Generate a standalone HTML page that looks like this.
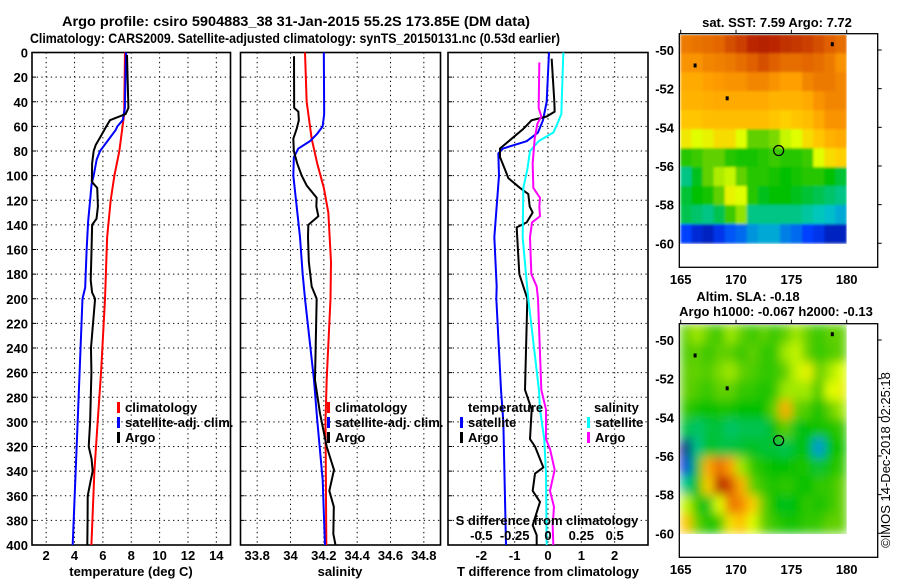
<!DOCTYPE html>
<html><head><meta charset="utf-8">
<style>
html,body{margin:0;padding:0;background:#fff;}
svg{display:block;font-family:"Liberation Sans",sans-serif;font-weight:bold;}
</style></head>
<body>
<svg id="fig" width="900" height="580" viewBox="0 0 900 580" xmlns="http://www.w3.org/2000/svg">
<defs>
<filter id="blurS" x="-5%" y="-5%" width="110%" height="110%"><feGaussianBlur stdDeviation="1.2"/></filter>
<filter id="blurL" x="-5%" y="-5%" width="110%" height="110%"><feGaussianBlur stdDeviation="5"/></filter>
<clipPath id="clipM1"><rect x="679.3" y="35" width="167.4" height="209"/></clipPath>
<clipPath id="clipM2"><rect x="679.3" y="325" width="167.4" height="209"/></clipPath>
</defs>
<text x="62" y="26" font-size="14" textLength="468" lengthAdjust="spacingAndGlyphs">Argo profile: csiro 5904883_38 31-Jan-2015 55.2S 173.85E (DM data)</text>
<text x="30" y="43" font-size="14" textLength="530" lengthAdjust="spacingAndGlyphs">Climatology: CARS2009. Satellite-adjusted climatology: synTS_20150131.nc (0.53d earlier)</text>
<g id="root"></g>
</svg>
<script>
// ---------- DATA ----------
const climTDepth = [0,50,80,100,120,150,200,260,300,340,400];
const climT      = [7.56,7.5,7.16,6.81,6.55,6.3,6.15,5.87,5.63,5.4,5.19];
const satTDepth  = [0,45,55,60,63,80,87,100,107,120,137,161,191,200,300,400];
const satT       = [7.63,7.55,7.4,7.02,6.9,5.8,5.56,5.35,5.2,5.1,4.96,4.85,4.75,4.56,4.22,3.87];
const argoTDepth = [2,45,50,55,60,65,70,75,80,90,105,110,125,135,140,160,185,195,200,240,260,300,320,330,340,350,360,380,400];
const argoT      = [7.7,7.8,7.6,6.5,6.24,6.0,5.75,5.5,5.35,5.24,5.22,5.6,5.65,5.55,5.24,5.2,5.14,5.24,5.45,5.16,5.19,5.1,5.0,5.2,5.28,5.1,4.93,4.92,4.9];
const climSDepth = [0,40,70,90,110,130,170,200,266,300,400];
const climS      = [34.087,34.097,34.127,34.16,34.2,34.227,34.243,34.24,34.217,34.21,34.215];
const satSDepth  = [0,50,60,66,72,78,85,100,120,150,180,200,266,298,347,374,400];
const satS       = [34.2,34.202,34.193,34.16,34.117,34.047,34.02,34.017,34.033,34.057,34.073,34.087,34.141,34.16,34.193,34.2,34.207];
const argoSDepth = [3,45,48,55,62,70,80,90,100,108,118,125,133,140,150,170,190,200,266,293,320,339,356,369,391,400];
const argoS      = [34.021,34.022,34.047,34.05,34.037,34.017,34.02,34.04,34.067,34.097,34.157,34.155,34.167,34.107,34.105,34.11,34.127,34.157,34.147,34.177,34.217,34.261,34.233,34.26,34.257,34.27];
const dTsatDepth  = [0,40,55,65,72,78,82,100,150,190,200,274,300,400];
const dTsat       = [0.03,-0.04,-0.15,-0.3,-0.64,-1.35,-1.49,-1.47,-1.61,-1.54,-1.55,-1.41,-1.34,-1.26];
const dTargoDepth = [5,40,48,52,55,62,70,78,85,95,102,110,115,125,130,138,142,180,190,200,274,290,314,320,337,342,356,365,384,392,400];
const dTargo      = [0.11,0.19,0.2,-0.04,-0.49,-0.74,-1.09,-1.44,-1.44,-1.29,-1.19,-0.84,-0.59,-0.55,-0.46,-0.64,-0.94,-0.86,-0.74,-0.62,-0.69,-0.49,-0.54,-0.39,-0.14,-0.39,-0.46,-0.24,-0.46,-0.34,-0.34];
const dSsatDepth  = [0,50,58,65,72,80,95,110,150,180,200,274,290,314,342,400];
const dSsat       = [0.115,0.1,0.07,0.04,-0.07,-0.135,-0.155,-0.185,-0.19,-0.165,-0.148,-0.068,-0.06,-0.028,-0.015,-0.01];
const dSargoDepth = [8,45,52,58,70,90,110,118,125,133,138,150,180,190,200,274,290,314,322,339,356,369,384,400];
const dSargo      = [-0.065,-0.07,-0.05,-0.08,-0.1,-0.115,-0.11,-0.06,-0.065,-0.06,-0.12,-0.135,-0.125,-0.085,-0.075,-0.05,-0.015,-0.015,0.015,0.05,0.015,0.045,0.035,0.04];
const depthTicks = [0,20,40,60,80,100,120,140,160,180,200,220,240,260,280,300,320,340,360,380,400];
const tTicks = [2,4,6,8,10,12,14];
const sTicks = [33.8,34,34.2,34.4,34.6,34.8];
const sTickLabels = ["33.8","34","34.2","34.4","34.6","34.8"];
const dTTicks = [-2,-1,0,1,2];
const dSTicks = [-0.5,-0.25,0,0.25,0.5];
const dSTickLabels = ["-0.5","-0.25","0","0.25","0.5"];
const lonTicks = [165,170,175,180];
const latTicks = [-50,-52,-54,-56,-58,-60];
const sstGrid = [
[0.84,0.85,0.86,0.87,0.9,0.92,0.95,0.96,0.95,0.94,0.93,0.92,0.9,0.88,0.86],
[0.8,0.8,0.82,0.83,0.84,0.86,0.88,0.9,0.88,0.86,0.86,0.87,0.86,0.84,0.8],
[0.76,0.76,0.78,0.79,0.8,0.8,0.82,0.82,0.8,0.78,0.78,0.82,0.84,0.84,0.82],
[0.74,0.74,0.75,0.76,0.76,0.76,0.76,0.76,0.74,0.74,0.74,0.76,0.8,0.82,0.82],
[0.7,0.7,0.72,0.72,0.72,0.72,0.72,0.72,0.7,0.68,0.7,0.72,0.76,0.8,0.8],
[0.64,0.6,0.62,0.66,0.66,0.6,0.5,0.5,0.52,0.58,0.6,0.66,0.7,0.74,0.76],
[0.44,0.46,0.5,0.5,0.44,0.42,0.42,0.44,0.46,0.44,0.44,0.46,0.6,0.66,0.68],
[0.3,0.38,0.5,0.56,0.58,0.5,0.44,0.44,0.42,0.4,0.42,0.44,0.44,0.4,0.36],
[0.36,0.4,0.42,0.5,0.62,0.6,0.44,0.38,0.4,0.4,0.38,0.36,0.34,0.32,0.3],
[0.34,0.32,0.3,0.34,0.46,0.54,0.3,0.3,0.3,0.3,0.3,0.28,0.26,0.24,0.22],
[0.12,0.08,0.06,0.1,0.14,0.16,0.2,0.22,0.22,0.18,0.16,0.12,0.1,0.06,0.06]];
const slaGrid = [
[0.5,0.55,0.5,0.45,0.55,0.5,0.45,0.5,0.45,0.5,0.55,0.5,0.45,0.5,0.5],
[0.48,0.5,0.45,0.5,0.5,0.45,0.5,0.45,0.45,0.55,0.58,0.5,0.45,0.48,0.5],
[0.5,0.5,0.48,0.52,0.55,0.5,0.48,0.45,0.45,0.5,0.58,0.62,0.5,0.55,0.6],
[0.5,0.48,0.45,0.5,0.5,0.45,0.45,0.42,0.45,0.55,0.55,0.55,0.45,0.6,0.62],
[0.45,0.42,0.4,0.42,0.42,0.4,0.4,0.4,0.5,0.76,0.5,0.48,0.4,0.5,0.55],
[0.35,0.32,0.35,0.36,0.32,0.34,0.34,0.34,0.4,0.5,0.38,0.4,0.42,0.42,0.45],
[0.0,0.3,0.38,0.35,0.35,0.36,0.38,0.36,0.36,0.34,0.38,0.4,0.2,0.4,0.42],
[0.08,0.36,0.76,0.86,0.78,0.55,0.45,0.42,0.4,0.4,0.42,0.42,0.36,0.42,0.45],
[0.3,0.4,0.68,0.96,0.9,0.74,0.5,0.45,0.42,0.45,0.42,0.4,0.45,0.45,0.5],
[0.58,0.45,0.38,0.6,0.84,0.82,0.68,0.5,0.4,0.38,0.4,0.45,0.42,0.45,0.5],
[0.7,0.5,0.42,0.45,0.65,0.72,0.6,0.5,0.45,0.42,0.42,0.45,0.45,0.5,0.5]];
const argoLon = 173.85, argoLat = -55.2;

// ---------- HELPERS ----------
const NS = "http://www.w3.org/2000/svg";
const root = document.getElementById("root");
function mk(tag, attrs, parent){
  const e = document.createElementNS(NS, tag);
  for (const k in attrs) e.setAttribute(k, attrs[k]);
  (parent||root).appendChild(e);
  return e;
}
const Y0 = 52.5, Y1 = 545;
const yD = d => Y0 + (d/400)*(Y1-Y0);
function lin(d0,d1,r0,r1){ return v => r0 + (v-d0)/(d1-d0)*(r1-r0); }
const P1 = {x0:32, x1:230.5}, P2 = {x0:240.5, x1:440.5}, P3 = {x0:448, x1:648};
const xT  = lin(1,15,P1.x0,P1.x1);
const xS  = lin(33.7,34.9,P2.x0,P2.x1);
const xDT = lin(-3,3,P3.x0,P3.x1);
const xDS = lin(-0.75,0.75,P3.x0,P3.x1);

function txt(x,y,s,anchor,size,name,parent){
  const t = mk("text",{x:x,y:y,"text-anchor":anchor||"start","font-size":size||13},parent);
  t.textContent = s;
  
  
  return t;
}

function panel(P, name, xticks, xfun, xlabels, showY){
  const g = mk("g",{});
  
  
  depthTicks.forEach(d=>{
    if (d===0||d===400) return;
    const l = mk("line",{x1:P.x0,x2:P.x1,y1:yD(d),y2:yD(d),stroke:"#000","stroke-width":1,"stroke-dasharray":"1.3 3.4"},g);
    
    
    const tk = mk("line",{x1:P.x0,x2:P.x0+4,y1:yD(d),y2:yD(d),stroke:"#000","stroke-width":1},g);
    
    
  });
  xticks.forEach((v,i)=>{
    const x = xfun(v);
    const l = mk("line",{x1:x,x2:x,y1:Y0,y2:Y1,stroke:"#000","stroke-width":1,"stroke-dasharray":"1.3 3.4"},g);
    
    
    if (xlabels) txt(x,560,xlabels[i],"middle",13,"x-tick-label",g);
  });
  const f = mk("rect",{x:P.x0,y:Y0,width:P.x1-P.x0,height:Y1-Y0,fill:"none",stroke:"#000","stroke-width":1.6},g);
  
  
  if (showY){
    depthTicks.forEach(d=>{ txt(28,yD(d)+5,String(d),"end",13,"y-tick-label",g); });
  }
  return g;
}
function series(xs, ds, xfun, color, w, name){
  const pts = xs.map((v,i)=> xfun(v).toFixed(2)+","+yD(ds[i]).toFixed(2)).join(" ");
  const p = mk("polyline",{points:pts,fill:"none",stroke:color,"stroke-width":w,"stroke-linejoin":"round"});
  
  
  return p;
}
function legendEntry(x,y,color,label,name){
  const g = mk("g",{});
  
  
  const b = mk("rect",{x:x,y:y-10,width:3,height:11,fill:color},g);
  
  
  txt(x+8,y,label,"start",13,"legend-label",g);
}

// ---------- PANEL 1 ----------
panel(P1,"temperature-panel",tTicks,xT,tTicks.map(String),true);
series(climT,climTDepth,xT,"#ff0000",2,"climatology-temperature-line");
series(satT,satTDepth,xT,"#0000ff",2,"satellite-temperature-line");
series(argoT,argoTDepth,xT,"#000000",2,"argo-temperature-line");
legendEntry(117,412,"#ff0000","climatology","legend-climatology");
legendEntry(117,427,"#0000ff","satellite-adj. clim.","legend-satellite-adj");
legendEntry(117,442,"#000000","Argo","legend-argo");
txt(131,576,"temperature (deg C)","middle",13,"x-axis-title-temperature");

// ---------- PANEL 2 ----------
panel(P2,"salinity-panel",sTicks,xS,sTickLabels,false);
series(climS,climSDepth,xS,"#ff0000",2,"climatology-salinity-line");
series(satS,satSDepth,xS,"#0000ff",2,"satellite-salinity-line");
series(argoS,argoSDepth,xS,"#000000",2,"argo-salinity-line");
legendEntry(327,412,"#ff0000","climatology","legend-climatology");
legendEntry(327,427,"#0000ff","satellite-adj. clim.","legend-satellite-adj");
legendEntry(327,442,"#000000","Argo","legend-argo");
txt(340,576,"salinity","middle",13,"x-axis-title-salinity");

// ---------- PANEL 3 ----------
panel(P3,"difference-panel",dTTicks,xDT,dTTicks.map(String),false);
series(dTsat,dTsatDepth,xDT,"#0000ff",2,"satellite-temperature-difference-line");
series(dTargo,dTargoDepth,xDT,"#000000",2,"argo-temperature-difference-line");
series(dSsat,dSsatDepth,xDS,"#00ffff",2,"satellite-salinity-difference-line");
series(dSargo,dSargoDepth,xDS,"#ff00ff",2,"argo-salinity-difference-line");
txt(468,412,"temperature","start",13,"legend-title-temperature");
legendEntry(460,427,"#0000ff","satellite","legend-temperature-satellite");
legendEntry(460,442,"#000000","Argo","legend-temperature-argo");
txt(594,412,"salinity","start",13,"legend-title-salinity");
legendEntry(587,427,"#00ffff","satellite","legend-salinity-satellite");
legendEntry(587,442,"#ff00ff","Argo","legend-salinity-argo");
txt(547,525,"S difference from climatology","middle",13,"s-difference-axis-title");
dSTicks.forEach((v,i)=> txt(xDS(v),540,dSTickLabels[i],"middle",13,"s-difference-tick-label"));
txt(548,576,"T difference from climatology","middle",13,"x-axis-title-t-difference");

// ---------- MAPS ----------
const cmapStops = [[0,[0,0,128]],[0.12,[0,64,255]],[0.25,[0,200,200]],[0.4,[0,192,0]],[0.5,[96,208,0]],[0.6,[224,255,0]],[0.68,[255,208,0]],[0.78,[255,160,0]],[0.88,[224,96,0]],[1,[160,0,0]]];
function cmap(v){
  for (let i=1;i<cmapStops.length;i++){
    if (v<=cmapStops[i][0]){
      const [a,ca]=cmapStops[i-1],[b,cb]=cmapStops[i];
      const t=(v-a)/(b-a);
      return "rgb("+ca.map((c,k)=>Math.round(c+(cb[k]-c)*t)).join(",")+")";
    }
  }
  return "rgb(160,0,0)";
}
function drawMap(oy, grid, blurId, clipId, name, title1, title2){
  const g = mk("g",{});
  
  
  const xL = lin(165,180,680.7,846.7);
  const yL = lin(-50,-60,50+oy,243.3+oy);
  const latTop = -49.2, latBot = -60, nR = grid.length;
  const hm = mk("g",{"clip-path":"url(#"+clipId+")"},g);
  
  
  const inner = mk("g",{filter:"url(#"+blurId+")"},hm);
  grid.forEach((row,r)=>{
    row.forEach((v,c)=>{
      const la0 = latTop + (latBot-latTop)*r/nR, la1 = latTop + (latBot-latTop)*(r+1)/nR;
      const x0 = xL(165+c), x1 = xL(166+c);
      const y0 = yL(la0), y1 = yL(la1);
      const cell = mk("rect",{x:x0-0.3,y:y0-0.3,width:x1-x0+0.6,height:y1-y0+0.6,fill:cmap(v)},inner);
      
      
    });
  });
  [[166.3,-50.8],[169.2,-52.5],[178.7,-49.7]].forEach(p=>{
    const s = mk("rect",{x:xL(p[0])-1.5,y:yL(p[1])-2,width:3,height:4,fill:"#000"},g);
    
    
  });
  const fr = mk("rect",{x:679.3,y:33.7+oy,width:198.4,height:233.6,fill:"none",stroke:"#000","stroke-width":1.3},g);
  
  
  lonTicks.forEach(v=>{
    const x = xL(v);
    const tk = mk("line",{x1:x,x2:x,y1:33.7+oy,y2:29.7+oy,stroke:"#000","stroke-width":1},g);
    
    
    txt(x,284+oy,String(v),"middle",13,"lon-tick-label",g);
  });
  latTicks.forEach(v=>{
    const y = yL(v);
    const tk = mk("line",{x1:877.7,x2:881.7,y1:y,y2:y,stroke:"#000","stroke-width":1},g);
    
    
    txt(674,y+5,String(v),"end",13,"lat-tick-label",g);
  });
  const c = mk("circle",{cx:xL(argoLon),cy:yL(argoLat),r:5,fill:"none",stroke:"#000","stroke-width":1.2},g);
  
  
  if (title2){
    txt(748,oy+11,title1,"middle",13,"map-title",g);
    txt(776,oy+26,title2,"middle",13,"map-subtitle",g);
  } else {
    txt(777,oy+27,title1,"middle",13,"map-title",g);
  }
}
drawMap(0,sstGrid,"blurS","clipM1","sst-map","sat. SST: 7.59 Argo: 7.72",null);
drawMap(290,slaGrid,"blurL","clipM2","sla-map","Altim. SLA: -0.18","Argo h1000: -0.067 h2000: -0.13");
const cp = txt(0,0,"©IMOS 14-Dec-2018 02:25:18","middle",13,"copyright-timestamp");
cp.setAttribute("font-weight","normal");
cp.setAttribute("transform","translate(890,460) rotate(-90)");
</script>
</body></html>
